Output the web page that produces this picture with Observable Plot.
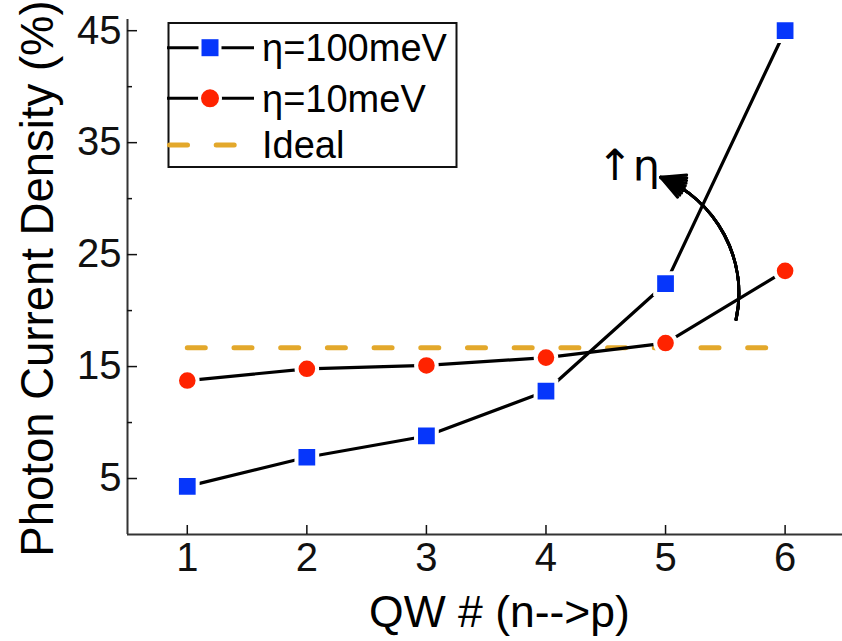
<!DOCTYPE html>
<html>
<head>
<meta charset="utf-8">
<script src="https://cdn.jsdelivr.net/npm/d3@7"></script>
<script src="https://cdn.jsdelivr.net/npm/@observablehq/plot@0.6"></script>
<style>
  html, body { margin: 0; padding: 0; background: #fff; }
  #chart { width: 842px; height: 641px; }
</style>
</head>
<body>
<div id="chart"></div>
<script>
// ---- data ----
const qw = [1, 2, 3, 4, 5, 6];
const eta100 = [4.3, 6.9, 8.8, 12.8, 22.4, 45.0];
const eta10 = [13.75, 14.8, 15.1, 15.8, 17.1, 23.55];
const idealValue = 16.67;
const seriesNames = ["η=100meV", "η=10meV", "Ideal"];
const xTicks = [1, 2, 3, 4, 5, 6];
const yMajorTicks = [5, 15, 25, 35, 45];
const yMinorTicks = [10, 20, 30, 40];
const xDomain = [0.5, 6.48];
const yDomain = [0, 46];
const xTitle = "QW # (n-->p)";
const yTitle = "Photon Current Density (%)";
const annotationText = ["↑η"];
const annotationX = [4.69];
const annotationY = [32.9];
const arcStart = [5.59, 19.2];
const arcEnd = [4.96, 31.9];

// ---- tables built from the arrays ----
const rows100 = qw.map((q, i) => ({qw: q, v: eta100[i]}));
const rows10 = qw.map((q, i) => ({qw: q, v: eta10[i]}));
const idealRows = [{qw: qw[0], v: idealValue}, {qw: qw[qw.length - 1], v: idealValue}];
const annRows = annotationText.map((t, i) => ({t, x: annotationX[i], y: annotationY[i]}));
const arcRows = [{x1: arcStart[0], y1: arcStart[1], x2: arcEnd[0], y2: arcEnd[1]}];

const BLUE = "#0636fb";
const RED = "#ff2300";
const GOLD = "#e3a82b";
const FONT = "'Liberation Sans', Arial, Helvetica, sans-serif";

const arrowMarks = [55, 42, 30, 18, 6].map(a =>
  Plot.arrow(arcRows, {x1: "x1", y1: "y1", x2: "x2", y2: "y2",
    bend: -40, stroke: "#000", strokeWidth: 3, headLength: 13, headAngle: a})
);

const plot = Plot.plot({
  width: 842,
  height: 641,
  marginLeft: 127,
  marginRight: 0,
  marginTop: 19,
  marginBottom: 107,
  x: {domain: xDomain},
  y: {domain: yDomain},
  style: {fontFamily: FONT, fontSize: "40px", color: "#000", background: "#fff", overflow: "visible"},
  marks: [
    Plot.ruleX([xDomain[0]], {stroke: "#333", strokeWidth: 2}),
    Plot.ruleY([yDomain[0]], {stroke: "#333", strokeWidth: 2}),
    Plot.axisY({ticks: yMajorTicks, tickSize: -10, tickPadding: 16, fontSize: 40, label: null, color: "#111", strokeWidth: 1.5}),
    Plot.axisY({ticks: yMinorTicks, tickSize: -5, tickPadding: 0, tickFormat: () => "", label: null, color: "#111", strokeWidth: 1.5}),
    Plot.axisX({ticks: xTicks, tickSize: -9, tickPadding: 17, tickFormat: d3.format("d"), fontSize: 40, label: null, color: "#111", strokeWidth: 1.5}),
    Plot.line(idealRows, {x: "qw", y: "v", stroke: GOLD, strokeWidth: 5, strokeDasharray: "18,28.7", strokeLinecap: "round"}),
    Plot.line(rows10, {x: "qw", y: "v", stroke: "#000", strokeWidth: 3.2}),
    Plot.line(rows100, {x: "qw", y: "v", stroke: "#000", strokeWidth: 3.2}),
    Plot.dot(rows10, {x: "qw", y: "v", r: 10.3, fill: RED, stroke: "#fff", strokeWidth: 4}),
    Plot.dot(rows100, {x: "qw", y: "v", r: 11.7, symbol: "square", fill: BLUE, stroke: "#fff", strokeWidth: 4}),
    ...arrowMarks,
    Plot.text(annRows, {x: "x", y: "y", text: "t", fontSize: 43, fontFamily: "'DejaVu Sans', sans-serif", fill: "#000"}),
    Plot.text([yTitle], {frameAnchor: "left", text: d => d, rotate: -90, textAnchor: "middle", lineAnchor: "middle", dx: -89, dy: 1.5, fontSize: 45.5, fill: "#000"}),
    Plot.text([xTitle], {frameAnchor: "bottom", text: d => d, textAnchor: "middle", lineAnchor: "middle", dx: 14.5, dy: 78, fontSize: 44.5, fill: "#000"})
  ]
});

// ---- legend box inside the plot ----
const svg = d3.select(plot);
const lg = svg.append("g").attr("font-family", FONT).attr("font-size", 38).attr("text-anchor", "start");
lg.append("rect").attr("x", 168.5).attr("y", 23).attr("width", 288).attr("height", 144)
  .attr("fill", "#fff").attr("stroke", "#111").attr("stroke-width", 2);
const rowY = [47.7, 98.3, 145];
const lx0 = 167, lx1 = 254, mx = 210, tx = 262;
// row 1
lg.append("line").attr("x1", lx0).attr("x2", lx1).attr("y1", rowY[0]).attr("y2", rowY[0]).attr("stroke", "#000").attr("stroke-width", 3);
lg.append("rect").attr("x", mx - 10).attr("y", rowY[0] - 10).attr("width", 20).attr("height", 20).attr("fill", BLUE).attr("stroke", "#fff").attr("stroke-width", 3);
// row 2
lg.append("line").attr("x1", lx0).attr("x2", lx1).attr("y1", rowY[1]).attr("y2", rowY[1]).attr("stroke", "#000").attr("stroke-width", 3);
lg.append("circle").attr("cx", mx).attr("cy", rowY[1]).attr("r", 10.5).attr("fill", RED).attr("stroke", "#fff").attr("stroke-width", 3);
// row 3
lg.append("line").attr("x1", lx0 + 2.5).attr("x2", lx1 - 15).attr("y1", rowY[2]).attr("y2", rowY[2])
  .attr("stroke", GOLD).attr("stroke-width", 5).attr("stroke-dasharray", "18,28.7").attr("stroke-linecap", "round");
seriesNames.forEach((name, i) => {
  lg.append("text").attr("x", tx).attr("y", rowY[i]).attr("dy", "0.35em").attr("fill", "#000").text(name);
});

document.getElementById("chart").appendChild(plot);
</script>
</body>
</html>
